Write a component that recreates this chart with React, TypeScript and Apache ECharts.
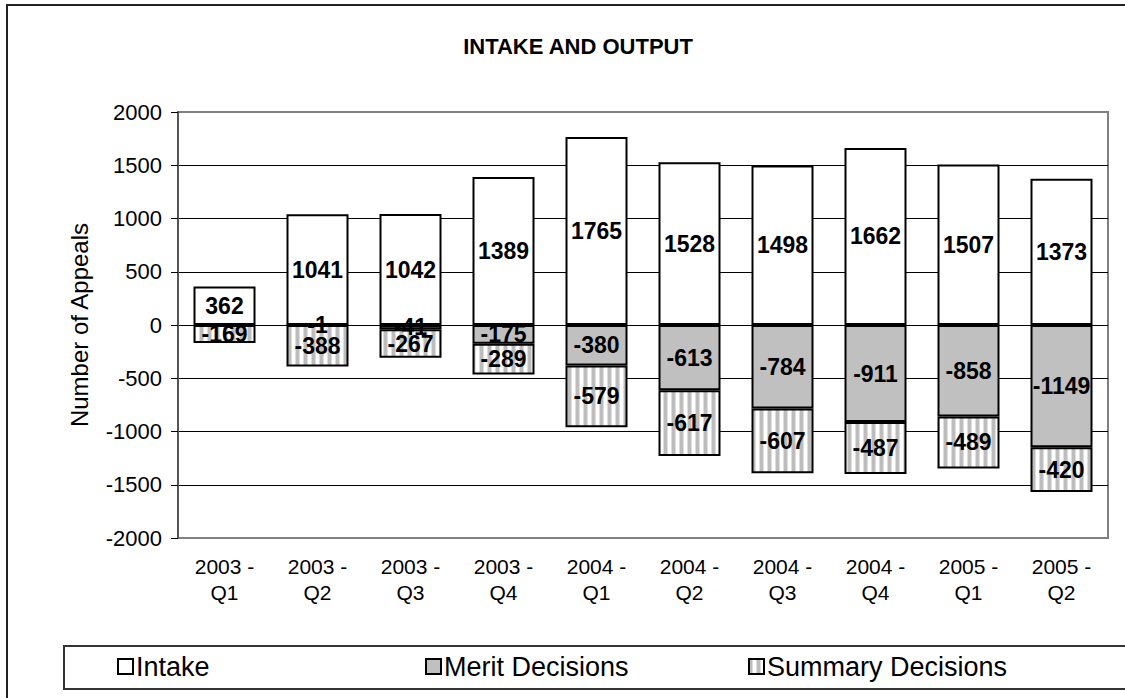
import React, { useEffect, useRef } from "react";
import * as echarts from "echarts";

const categories = [
  "2003 -\nQ1", "2003 -\nQ2", "2003 -\nQ3", "2003 -\nQ4",
  "2004 -\nQ1", "2004 -\nQ2", "2004 -\nQ3", "2004 -\nQ4",
  "2005 -\nQ1", "2005 -\nQ2",
];
const intake = [362, 1041, 1042, 1389, 1765, 1528, 1498, 1662, 1507, 1373];
const merit: (number | null)[] = [null, -1, -41, -175, -380, -613, -784, -911, -858, -1149];
const summary = [-169, -388, -267, -289, -579, -617, -607, -487, -489, -420];
const yTicks = { min: -2000, max: 2000, interval: 500 };

const FONT = "'Liberation Sans', Arial, sans-serif";

function makeStripe(): HTMLCanvasElement {
  const c = document.createElement("canvas");
  c.width = 8;
  c.height = 8;
  const ctx = c.getContext("2d")!;
  ctx.fillStyle = "#ffffff";
  ctx.fillRect(0, 0, 8, 8);
  ctx.fillStyle = "#bdbdbd";
  ctx.fillRect(0, 0, 3, 8);
  ctx.fillStyle = "#dedede";
  ctx.fillRect(3, 0, 1, 8);
  ctx.fillRect(7, 0, 1, 8);
  return c;
}

export default function App() {
  const ref = useRef<HTMLDivElement>(null);
  useEffect(() => {
    if (!ref.current) return;
    const chart = echarts.init(ref.current, undefined, { renderer: "svg" });
    const stripe = makeStripe();
    const label = {
      show: true,
      position: "inside" as const,
      color: "#000",
      fontWeight: "bold" as const,
      fontSize: 23,
      fontFamily: FONT,
    };
    const border = { borderColor: "#000", borderWidth: 2 };
    const legendBase = {
      top: 653,
      padding: 0,
      itemWidth: 15,
      itemHeight: 15,
      icon: "rect",
      textStyle: { fontSize: 27, fontFamily: FONT, color: "#000", padding: [0, 0, 0, -2] },
      selectedMode: false,
    };
    chart.setOption({
      animation: false,
      backgroundColor: "#fff",
      title: {
        text: "INTAKE AND OUTPUT",
        left: 573,
        textAlign: "center",
        top: 30,
        textStyle: { fontSize: 22, fontWeight: "bold", fontFamily: FONT, color: "#000" },
      },
      legend: [
        { ...legendBase, left: 117, data: ["Intake"] },
        { ...legendBase, left: 425, data: ["Merit Decisions"] },
        { ...legendBase, left: 748, data: ["Summary Decisions"] },
      ],
      grid: {
        left: 178,
        top: 112,
        right: 17,
        bottom: 160,
        show: true,
        borderColor: "#808080",
        borderWidth: 2,
        backgroundColor: "transparent",
      },
      xAxis: {
        type: "category",
        data: categories,
        axisLine: { show: false, onZero: false },
        axisTick: { show: false },
        axisLabel: {
          fontSize: 21,
          fontFamily: FONT,
          color: "#000",
          lineHeight: 26,
          margin: 15,
          interval: 0,
        },
      },
      yAxis: {
        type: "value",
        min: yTicks.min,
        max: yTicks.max,
        interval: yTicks.interval,
        name: "Number of Appeals",
        nameLocation: "middle",
        nameGap: 87,
        nameTextStyle: { fontSize: 24, fontFamily: FONT, color: "#000" },
        axisLine: { show: true, lineStyle: { color: "#555", width: 2 } },
        axisTick: { show: true, length: 7, lineStyle: { color: "#000", width: 1 } },
        axisLabel: {
          fontSize: 22,
          fontFamily: FONT,
          color: "#000",
          margin: 16,
          formatter: (v: number) => String(v),
        },
        splitLine: {
          show: true,
          showMinLine: false,
          showMaxLine: false,
          lineStyle: { color: "#000", width: 1 },
        },
      },
      graphic: [
        {
          type: "rect",
          shape: { x: 7, y: 5, width: 1140, height: 720 },
          style: { fill: "none", stroke: "#222", lineWidth: 2 },
          silent: true,
          z: 100,
        },
        {
          type: "rect",
          shape: { x: 64, y: 646, width: 1100, height: 43 },
          style: { fill: "none", stroke: "#333", lineWidth: 2 },
          silent: true,
          z: 100,
        },
      ],
      series: [
        {
          name: "Intake",
          type: "bar",
          stack: "total",
          data: intake,
          barWidth: 62,
          itemStyle: { color: "#ffffff", ...border },
          label,
        },
        {
          name: "Merit Decisions",
          type: "bar",
          stack: "total",
          data: merit.map((v) => (v === null ? "-" : v)),
          barWidth: 62,
          itemStyle: { color: "#c0c0c0", ...border },
          label,
        },
        {
          name: "Summary Decisions",
          type: "bar",
          stack: "total",
          data: summary,
          barWidth: 62,
          itemStyle: { color: { image: stripe, repeat: "repeat" }, ...border },
          label,
        },
      ],
    });
    return () => chart.dispose();
  }, []);
  return (
    <div
      ref={ref}
      style={{ position: "fixed", left: 0, top: 0, width: 1125, height: 698 }}
    />
  );
}
